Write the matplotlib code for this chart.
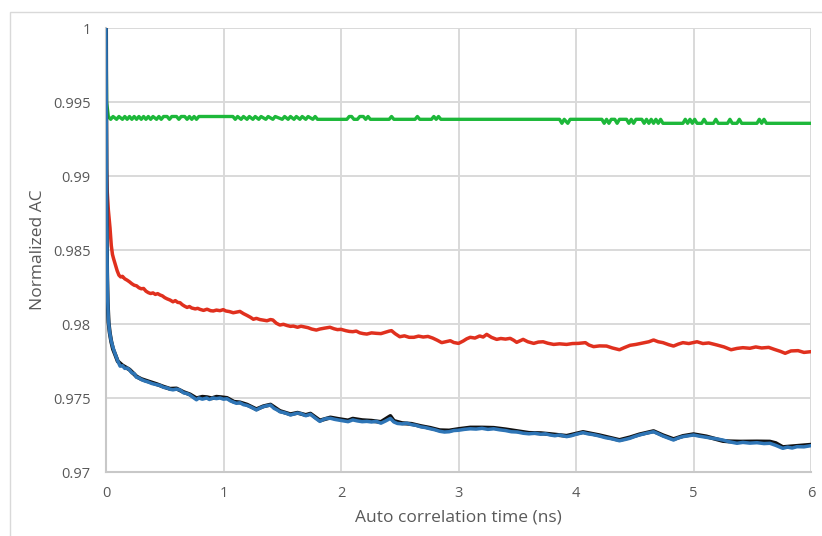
"""Normalized autocorrelation curves, Excel-like styling."""

import matplotlib
matplotlib.use("Agg")
import matplotlib.pyplot as plt
from matplotlib.patches import Rectangle

# ---- data ----
green_t = [0.0, 0.005, 0.02, 0.04, 0.06, 0.09, 0.11, 0.14, 0.16, 0.18, 0.20, 0.22, 0.24,
           0.26, 0.28, 0.30, 0.32, 0.34, 0.36, 0.38, 0.40, 0.43, 0.45, 0.47, 0.49, 0.52,
           0.54, 0.56, 0.60, 0.62, 0.64, 0.67, 0.69, 0.71, 0.73, 0.75, 0.77, 0.79,
           1.08, 1.10, 1.12, 1.15, 1.17, 1.20, 1.22, 1.25, 1.27, 1.30, 1.32, 1.36, 1.38,
           1.42, 1.44, 1.50, 1.52, 1.55, 1.57, 1.60, 1.62, 1.65, 1.67, 1.70, 1.72, 1.76,
           1.78, 1.80, 2.05, 2.07, 2.09, 2.11, 2.14, 2.16, 2.19, 2.21, 2.23, 2.25, 2.41,
           2.43, 2.45, 2.63, 2.65, 2.67, 2.77, 2.79, 2.81, 2.83, 2.85, 3.86, 3.88, 3.90,
           3.93, 3.95, 4.22, 4.24, 4.26, 4.28, 4.30, 4.33, 4.35, 4.37, 4.43, 4.45, 4.47,
           4.49, 4.51, 4.56, 4.58, 4.60, 4.62, 4.64, 4.66, 4.68, 4.70, 4.72, 4.74, 4.91,
           4.93, 4.95, 4.97, 4.99, 5.01, 5.03, 5.07, 5.09, 5.11, 5.17, 5.19, 5.21, 5.29,
           5.31, 5.33, 5.37, 5.39, 5.41, 5.54, 5.56, 5.58, 5.60, 5.62, 6.0]
green_v = [1.0, 0.9950, 0.99402, 0.99383, 0.99402, 0.99383, 0.99402, 0.99383, 0.99402,
           0.99383, 0.99402, 0.99383, 0.99402, 0.99383, 0.99402, 0.99383, 0.99402,
           0.99383, 0.99402, 0.99383, 0.99402, 0.99383, 0.99402, 0.99383, 0.99402,
           0.99402, 0.99383, 0.99402, 0.99402, 0.99383, 0.99402, 0.99402, 0.99383,
           0.99402, 0.99383, 0.99402, 0.99383, 0.99402,
           0.99402, 0.99383, 0.99402, 0.99383, 0.99402, 0.99383, 0.99402, 0.99383,
           0.99402, 0.99383, 0.99402, 0.99383, 0.99402, 0.99383, 0.99402, 0.99383,
           0.99402, 0.99383, 0.99402, 0.99383, 0.99402, 0.99383, 0.99402, 0.99383,
           0.99402, 0.99383, 0.99402, 0.99383, 0.99383, 0.99402, 0.99402, 0.99383,
           0.99383, 0.99402, 0.99402, 0.99383, 0.99402, 0.99383, 0.99383, 0.99402,
           0.99383, 0.99383, 0.99402, 0.99383, 0.99383, 0.99402, 0.99383, 0.99402,
           0.99383, 0.99383, 0.99356, 0.99383, 0.99356, 0.99383, 0.99383, 0.99356,
           0.99383, 0.99356, 0.99383, 0.99383, 0.99356, 0.99383, 0.99383, 0.99356,
           0.99383, 0.99356, 0.99383, 0.99383, 0.99356, 0.99383, 0.99356, 0.99383,
           0.99356, 0.99383, 0.99356, 0.99383, 0.99356, 0.99356, 0.99383, 0.99356,
           0.99383, 0.99356, 0.99383, 0.99356, 0.99356, 0.99383, 0.99356, 0.99356,
           0.99383, 0.99356, 0.99356, 0.99383, 0.99356, 0.99356, 0.99383, 0.99356,
           0.99356, 0.99383, 0.99356, 0.99383, 0.99356, 0.99356]

red_t = [0.0, 0.004, 0.010, 0.020, 0.034, 0.045, 0.055, 0.065, 0.080, 0.095, 0.110,
         0.125, 0.140, 0.160, 0.180, 0.200, 0.220, 0.240, 0.260, 0.280, 0.300, 0.320,
         0.340, 0.360, 0.380, 0.400, 0.420, 0.440, 0.460, 0.480, 0.500, 0.520, 0.545,
         0.570, 0.590, 0.610, 0.630, 0.650, 0.670, 0.690, 0.710, 0.730, 0.760, 0.780,
         0.800, 0.830, 0.860, 0.890, 0.913, 0.940, 0.970, 0.998, 1.020, 1.050, 1.083,
         1.110, 1.140, 1.170, 1.200, 1.230, 1.254, 1.280, 1.310, 1.340, 1.370, 1.400,
         1.420, 1.450, 1.480, 1.510, 1.540, 1.570, 1.594, 1.630, 1.660, 1.690, 1.720,
         1.750, 1.790, 1.820, 1.860, 1.906, 1.940, 1.970, 2.000, 2.040, 2.070, 2.100,
         2.130, 2.160, 2.190, 2.220, 2.260, 2.300, 2.340, 2.380, 2.410, 2.430, 2.460,
         2.500, 2.540, 2.580, 2.620, 2.660, 2.700, 2.740, 2.780, 2.820, 2.857, 2.890,
         2.930, 2.960, 3.000, 3.040, 3.070, 3.100, 3.140, 3.180, 3.210, 3.240, 3.280,
         3.325, 3.360, 3.400, 3.440, 3.470, 3.495, 3.520, 3.550, 3.590, 3.640, 3.680,
         3.720, 3.760, 3.810, 3.860, 3.920, 3.970, 4.020, 4.080, 4.110, 4.150, 4.200,
         4.260, 4.310, 4.370, 4.410, 4.460, 4.510, 4.570, 4.620, 4.660, 4.700, 4.740,
         4.790, 4.830, 4.870, 4.910, 4.960, 5.030, 5.080, 5.130, 5.200, 5.260, 5.320,
         5.370, 5.420, 5.480, 5.530, 5.580, 5.640, 5.690, 5.740, 5.780, 5.830, 5.890,
         5.940, 6.000]
red_v = [1.0, 0.9905, 0.9890, 0.9877, 0.9865, 0.9853, 0.9847, 0.9844, 0.9840, 0.9836,
         0.9833, 0.98318, 0.98322, 0.98305, 0.98296, 0.98285, 0.98272, 0.98262, 0.98258,
         0.98245, 0.98238, 0.98240, 0.98222, 0.98212, 0.98206, 0.98210, 0.98200,
         0.98205, 0.98196, 0.98190, 0.98178, 0.98170, 0.98162, 0.98150, 0.98158,
         0.98146, 0.98144, 0.98130, 0.98120, 0.98112, 0.98118, 0.98108, 0.98102,
         0.98106, 0.98099, 0.98092, 0.98100, 0.98090, 0.98088, 0.98094, 0.98090,
         0.98097, 0.98088, 0.98084, 0.98076, 0.98080, 0.98085, 0.98070, 0.98058,
         0.98045, 0.98032, 0.98038, 0.98030, 0.98026, 0.98022, 0.98030, 0.98027,
         0.98005, 0.97993, 0.97998, 0.97990, 0.97984, 0.97986, 0.97978, 0.97985,
         0.97980, 0.97975, 0.97966, 0.97959, 0.97966, 0.97972, 0.97978, 0.97968,
         0.97962, 0.97964, 0.97955, 0.97950, 0.97948, 0.97952, 0.97940, 0.97935,
         0.97932, 0.97940, 0.97937, 0.97935, 0.97945, 0.97952, 0.97955, 0.97935,
         0.97914, 0.97920, 0.97910, 0.97910, 0.97918, 0.97912, 0.97916, 0.97905,
         0.97890, 0.97874, 0.97880, 0.97887, 0.97875, 0.97869, 0.97885, 0.97900,
         0.97910, 0.97905, 0.97919, 0.97912, 0.97930, 0.97910, 0.97896, 0.97902,
         0.97898, 0.97903, 0.97890, 0.97876, 0.97885, 0.97896, 0.97880, 0.97869,
         0.97878, 0.97880, 0.97870, 0.97862, 0.97866, 0.97862, 0.97868, 0.97869,
         0.97874, 0.97858, 0.97847, 0.97852, 0.97851, 0.97838, 0.97826, 0.97840,
         0.97856, 0.97862, 0.97872, 0.97880, 0.97892, 0.97880, 0.97874, 0.97860,
         0.97851, 0.97864, 0.97874, 0.97868, 0.97880, 0.97868, 0.97872, 0.97858,
         0.97845, 0.97826, 0.97835, 0.97840, 0.97836, 0.97845, 0.97838, 0.97842,
         0.97828, 0.97815, 0.97802, 0.97818, 0.97820, 0.97808, 0.97813]

blue_t = [0.000, 0.002, 0.005, 0.008, 0.012, 0.020, 0.030, 0.043, 0.060, 0.077, 0.100,
          0.120, 0.140, 0.160, 0.180, 0.200, 0.220, 0.240, 0.260, 0.280, 0.300, 0.330,
          0.360, 0.390, 0.430, 0.460, 0.490, 0.520, 0.545, 0.570, 0.600, 0.630, 0.660,
          0.690, 0.715, 0.740, 0.770, 0.790, 0.820, 0.857, 0.880, 0.910, 0.940, 0.970,
          1.000, 1.030, 1.060, 1.090, 1.110, 1.140, 1.170, 1.200, 1.230, 1.260, 1.280,
          1.310, 1.340, 1.370, 1.400, 1.430, 1.460, 1.480, 1.510, 1.540, 1.570, 1.600,
          1.630, 1.660, 1.700, 1.740, 1.780, 1.820, 1.850, 1.880, 1.910, 1.950, 1.980,
          2.020, 2.060, 2.100, 2.140, 2.180, 2.220, 2.260, 2.300, 2.340, 2.380, 2.420,
          2.450, 2.480, 2.520, 2.560, 2.600, 2.640, 2.680, 2.720, 2.760, 2.800, 2.840,
          2.880, 2.920, 2.960, 3.000, 3.050, 3.100, 3.150, 3.200, 3.250, 3.300, 3.350,
          3.400, 3.450, 3.500, 3.550, 3.600, 3.650, 3.700, 3.740, 3.780, 3.820, 3.860,
          3.920, 3.960, 4.000, 4.060, 4.100, 4.150, 4.200, 4.250, 4.300, 4.370, 4.420,
          4.460, 4.500, 4.540, 4.600, 4.660, 4.700, 4.740, 4.790, 4.830, 4.870, 4.910,
          4.960, 5.000, 5.050, 5.110, 5.160, 5.210, 5.250, 5.300, 5.370, 5.420, 5.480,
          5.540, 5.600, 5.650, 5.700, 5.760, 5.800, 5.840, 5.880, 5.940, 6.000]
blue_v = [1.0, 0.9950, 0.9890, 0.9850, 0.9822, 0.9803, 0.9795, 0.9789, 0.9784, 0.9780,
          0.9775, 0.97715, 0.97718, 0.97700, 0.97702, 0.97690, 0.97670, 0.97665,
          0.97640, 0.97636, 0.97625, 0.97615, 0.97608, 0.97598, 0.97590, 0.97585,
          0.97572, 0.97568, 0.97559, 0.97555, 0.97560, 0.97554, 0.97535, 0.97530,
          0.97520, 0.97505, 0.97488, 0.97500, 0.97492, 0.97500, 0.97490, 0.97500,
          0.97496, 0.97500, 0.97492, 0.97495, 0.97480, 0.97470, 0.97464, 0.97468,
          0.97455, 0.97450, 0.97440, 0.97428, 0.97419, 0.97432, 0.97442, 0.97448,
          0.97452, 0.97430, 0.97418, 0.97407, 0.97402, 0.97395, 0.97385, 0.97392,
          0.97398, 0.97394, 0.97380, 0.97390, 0.97365, 0.97342, 0.97355, 0.97362,
          0.97363, 0.97355, 0.97351, 0.97345, 0.97340, 0.97352, 0.97345, 0.97340,
          0.97342, 0.97338, 0.97342, 0.97330, 0.97345, 0.97362, 0.97338, 0.97328,
          0.97325, 0.97330, 0.97320, 0.97315, 0.97305, 0.97300, 0.97292, 0.97285,
          0.97275, 0.97270, 0.97272, 0.97280, 0.97282, 0.97288, 0.97292, 0.97290,
          0.97295, 0.97288, 0.97292, 0.97285, 0.97280, 0.97272, 0.97270, 0.97262,
          0.97258, 0.97262, 0.97255, 0.97258, 0.97250, 0.97245, 0.97250, 0.97239,
          0.97245, 0.97255, 0.97266, 0.97258, 0.97252, 0.97243, 0.97232, 0.97225,
          0.97211, 0.97220, 0.97228, 0.97240, 0.97250, 0.97262, 0.97272, 0.97258,
          0.97243, 0.97228, 0.97216, 0.97230, 0.97239, 0.97245, 0.97250, 0.97242,
          0.97234, 0.97228, 0.97222, 0.97216, 0.97205, 0.97194, 0.97200, 0.97195,
          0.97198, 0.97192, 0.97194, 0.97180, 0.97160, 0.97168, 0.97162, 0.97171,
          0.97170, 0.97178]

black_t = [0.000, 0.002, 0.005, 0.009, 0.014, 0.022, 0.032, 0.045, 0.060, 0.080, 0.100,
           0.140, 0.200, 0.260, 0.300, 0.360, 0.430, 0.490, 0.545, 0.600, 0.660, 0.715,
           0.770, 0.820, 0.860, 0.900, 0.940, 0.980, 1.030, 1.090, 1.140, 1.200, 1.280,
           1.340, 1.400, 1.480, 1.570, 1.630, 1.700, 1.740, 1.820, 1.910, 1.980, 2.060,
           2.100, 2.180, 2.260, 2.340, 2.420, 2.450, 2.520, 2.600, 2.680, 2.760, 2.840,
           2.920, 3.000, 3.100, 3.200, 3.300, 3.400, 3.500, 3.600, 3.700, 3.780, 3.920,
           4.060, 4.200, 4.370, 4.460, 4.540, 4.660, 4.740, 4.830, 4.910, 5.000, 5.110,
           5.250, 5.300, 5.400, 5.540, 5.650, 5.700, 5.760, 5.880, 6.000]
black_v = [1.0, 0.9935, 0.9870, 0.9835, 0.9815, 0.9801, 0.9794, 0.9788, 0.9783, 0.9779,
           0.97748, 0.97720, 0.97692, 0.97645, 0.97628, 0.97612, 0.97594, 0.97576,
           0.97562, 0.97564, 0.97540, 0.97524, 0.97498, 0.97508, 0.97505, 0.97498,
           0.97508, 0.97505, 0.97500, 0.97474, 0.97470, 0.97455, 0.97424, 0.97444,
           0.97455, 0.97412, 0.97390, 0.97400, 0.97385, 0.97394, 0.97348, 0.97368,
           0.97358, 0.97348, 0.97360, 0.97350, 0.97346, 0.97338, 0.97378, 0.97345,
           0.97330, 0.97325, 0.97310, 0.97298, 0.97282, 0.97280, 0.97290, 0.97300,
           0.97300, 0.97298, 0.97288, 0.97276, 0.97264, 0.97262, 0.97256, 0.97244,
           0.97270, 0.97248, 0.97216, 0.97234, 0.97254, 0.97276, 0.97248, 0.97222,
           0.97243, 0.97255, 0.97240, 0.97210, 0.97207, 0.97205, 0.97206, 0.97205,
           0.97195, 0.97168, 0.97176, 0.97184]

x_ticks = [0, 1, 2, 3, 4, 5, 6]
y_ticks = [0.97, 0.975, 0.98, 0.985, 0.99, 0.995, 1.0]
y_tick_labels = ["0.97", "0.975", "0.98", "0.985", "0.99", "0.995", "1"]


def main():
    plt.rcParams["font.family"] = ["Open Sans", "DejaVu Sans"]
    fig = plt.figure(figsize=(8.22, 5.36), dpi=100)
    ax = fig.add_axes([106 / 822, 1 - 472 / 536, (811 - 106) / 822, (472 - 28) / 536])

    # chart-area outline
    fig.patches.append(Rectangle((10 / 822, -0.05), 1.0, 1 - 12 / 536 + 0.05,
                                 transform=fig.transFigure, fill=False,
                                 edgecolor="#d9d9d9", linewidth=1.0))

    ax.plot(green_t, green_v, color="#1db83a", linewidth=2.4, zorder=3)
    ax.plot(red_t, red_v, color="#e0301e", linewidth=2.5, zorder=3)
    ax.plot(black_t, black_v, color="#111111", linewidth=2.9, zorder=4)
    ax.plot(blue_t, blue_v, color="#2e75b6", linewidth=2.5, zorder=5)

    ax.set_xlim(0, 6)
    ax.set_ylim(0.97, 1.0)
    ax.set_xticks(x_ticks)
    ax.set_yticks(y_ticks)
    ax.set_yticklabels(y_tick_labels)
    ax.tick_params(length=0, labelsize=10.5, labelcolor="#595959")
    ax.tick_params(axis="x", pad=10)
    ax.tick_params(axis="y", pad=11)
    ax.grid(True, color="#d9d9d9", linewidth=1.4, zorder=0)
    ax.set_axisbelow(True)

    for side in ["top", "right"]:
        ax.spines[side].set_visible(False)
    for side in ["left", "bottom"]:
        ax.spines[side].set_color("#c8c8c8")
        ax.spines[side].set_linewidth(1.5)

    ax.set_xlabel("Auto correlation time (ns)", fontsize=12.5, color="#595959", labelpad=6)
    ax.set_ylabel("Normalized AC", fontsize=12.5, color="#595959", labelpad=5)

    fig.savefig("out.png", dpi=100)


if __name__ == "__main__":
    main()
